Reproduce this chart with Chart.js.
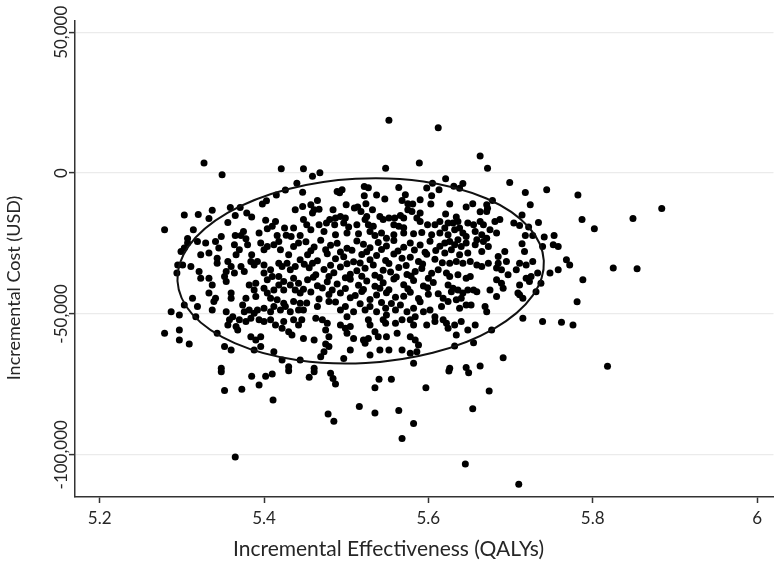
<!DOCTYPE html>
<html>
<head>
<meta charset="utf-8">
<script src="https://cdn.jsdelivr.net/npm/chart.js@4.4.1/dist/chart.umd.min.js"></script>
<style>
  html, body { margin: 0; padding: 0; background: #fff; }
  #wrap { width: 777px; height: 576px; }
</style>
</head>
<body>
<div id="wrap"><canvas id="icer" width="777" height="576"></canvas></div>
<script>
// Tick values and labels
const xTicks = [5.2, 5.4, 5.6, 5.8, 6];
const xTickLabels = ['5.2', '5.4', '5.6', '5.8', '6'];
const yTicks = [-100000, -50000, 0, 50000];
const yTickLabels = ['-100,000', '-50,000', '0', '50,000'];

const xTitle = 'Incremental Effectiveness (QALYs)';
const yTitle = 'Incremental Cost (USD)';

// 95% confidence ellipse, given by its centre and the ends of its two half-axes
const ellipseCentre = [5.5176, -34700];
const ellipseMajorEnd = [5.7405, -31100];
const ellipseMinorEnd = [5.5115, -2000];

// Bootstrap draws: [incremental QALYs, incremental cost USD]
const draws = [
  [5.327, 3600], [5.349, -600], [5.421, 1500], [5.448, 1500], [5.440, -3600], [5.426, -6000],
  [5.415, -7800], [5.403, -9800], [5.398, -11000], [5.447, -6800], [5.438, -13000], [5.447, -11900],
  [5.303, -14900], [5.320, -14700], [5.337, -13200], [5.333, -16100], [5.359, -12200], [5.371, -12200],
  [5.365, -15100], [5.379, -14200], [5.385, -15600], [5.356, -17500], [5.314, -20100], [5.402, -16700],
  [5.414, -17200], [5.410, -18900], [5.404, -19800], [5.394, -21300], [5.425, -19500], [5.436, -19500],
  [5.416, -22200], [5.427, -22100], [5.433, -22500], [5.375, -20700], [5.372, -22200], [5.378, -23300],
  [5.365, -22200], [5.348, -22500], [5.307, -23200], [5.279, -20100], [5.444, -22200],
  [5.552, 18800], [5.612, 16100], [5.589, 3600], [5.548, 1700], [5.459, -1100], [5.468, 100],
  [5.605, -3600], [5.613, -5900], [5.598, -5300], [5.564, -5100], [5.522, -4800], [5.527, -5200],
  [5.489, -6500], [5.495, -5900], [5.492, -7000], [5.537, -7800], [5.547, -9200], [5.522, -8000],
  [5.572, -7700], [5.604, -8000], [5.568, -9700], [5.575, -10900], [5.581, -11000], [5.590, -9500],
  [5.603, -11000], [5.465, -9700], [5.457, -11200], [5.500, -11200], [5.510, -12400], [5.514, -12000],
  [5.518, -13600], [5.524, -10900], [5.532, -13000], [5.484, -13000], [5.461, -13000], [5.467, -12800],
  [5.459, -14200], [5.575, -13000], [5.580, -13600], [5.590, -14200], [5.566, -15100], [5.570, -15900],
  [5.559, -15900], [5.586, -15900], [5.590, -17200], [5.493, -15400], [5.499, -15900], [5.487, -15900],
  [5.480, -16500], [5.525, -15400], [5.523, -16500], [5.541, -15400], [5.545, -16500], [5.552, -15900],
  [5.448, -16500], [5.452, -18300], [5.467, -18300], [5.476, -17700], [5.486, -18300], [5.497, -17700],
  [5.503, -19100], [5.513, -18300], [5.527, -18300], [5.533, -18900], [5.558, -18300], [5.564, -18900],
  [5.570, -19400], [5.599, -18300], [5.608, -18300], [5.614, -17200], [5.457, -20100], [5.473, -20700],
  [5.487, -21900], [5.501, -21300], [5.515, -21500], [5.529, -20700], [5.535, -22200], [5.543, -21300],
  [5.549, -23100], [5.558, -21900], [5.570, -21300], [5.582, -21500], [5.592, -21100], [5.604, -21900],
  [5.614, -21300],
  [5.663, 6100], [5.672, 1700], [5.621, -2000], [5.631, -4700], [5.638, -5400], [5.642, -3700],
  [5.699, -3300], [5.718, -6900], [5.744, -5900], [5.782, -7800], [5.678, -9700], [5.724, -11200],
  [5.787, -16500], [5.626, -11000], [5.646, -12000], [5.654, -10900], [5.671, -11200], [5.672, -12500],
  [5.671, -13600], [5.663, -13700], [5.621, -14500], [5.634, -15600], [5.636, -17200], [5.630, -17700],
  [5.624, -17700], [5.648, -17700], [5.655, -18300], [5.663, -17200], [5.667, -18300], [5.681, -17200],
  [5.687, -16500], [5.704, -17700], [5.711, -18600], [5.714, -14900], [5.734, -17500], [5.722, -19100],
  [5.675, -20100], [5.683, -21300], [5.638, -19500], [5.642, -21300], [5.632, -20100], [5.620, -19500],
  [5.624, -21900], [5.657, -20700], [5.665, -21900], [5.718, -22200], [5.727, -22200], [5.741, -22700],
  [5.753, -22200], [5.646, -22500], [5.671, -23100],
  [5.802, -19800], [5.849, -16100], [5.884, -12600],
  [5.307, -24800], [5.303, -26600], [5.299, -27800], [5.319, -24300], [5.329, -24800], [5.341, -24300],
  [5.345, -26600], [5.364, -25400], [5.370, -27200], [5.366, -29000], [5.380, -25400], [5.385, -29000],
  [5.396, -24800], [5.400, -27200], [5.404, -26100], [5.412, -25400], [5.418, -24300], [5.420, -27200],
  [5.430, -29000], [5.436, -26100], [5.442, -24800], [5.295, -32600], [5.301, -32600], [5.294, -35500],
  [5.311, -33200], [5.323, -29000], [5.333, -28400], [5.343, -30200], [5.343, -32000], [5.321, -34900],
  [5.323, -37300], [5.333, -37300], [5.356, -31400], [5.360, -33200], [5.372, -33200], [5.376, -34900],
  [5.364, -35500], [5.354, -34900], [5.352, -36700], [5.354, -38500], [5.384, -31400], [5.388, -32600],
  [5.392, -31400], [5.400, -32600], [5.408, -34300], [5.418, -32000], [5.422, -33200], [5.428, -32000],
  [5.432, -34300], [5.438, -33200], [5.444, -30800], [5.400, -35500], [5.404, -37900], [5.410, -36700],
  [5.418, -36700], [5.424, -38500], [5.436, -37300], [5.442, -39100], [5.337, -39700], [5.333, -42600],
  [5.341, -44400], [5.339, -45600], [5.360, -42600], [5.360, -44400], [5.378, -44400], [5.390, -43800],
  [5.313, -44400], [5.319, -47400], [5.303, -46800], [5.337, -48600], [5.382, -39700], [5.390, -39100],
  [5.388, -41500], [5.400, -40900], [5.404, -42600], [5.412, -41500], [5.418, -39700], [5.424, -41500],
  [5.432, -39700], [5.438, -41500], [5.444, -42600], [5.408, -44400], [5.416, -45000], [5.424, -46200],
  [5.436, -45600], [5.444, -46200], [5.374, -46800], [5.376, -49200], [5.382, -48600], [5.388, -49800],
  [5.392, -48600], [5.400, -48000], [5.408, -49200], [5.412, -47400], [5.420, -48600], [5.426, -47400],
  [5.432, -49200], [5.442, -48600], [5.354, -49200], [5.358, -52100], [5.356, -53900], [5.362, -51000],
  [5.366, -54500], [5.368, -55700], [5.370, -52100], [5.378, -52700], [5.384, -51500], [5.394, -52100],
  [5.400, -52700], [5.408, -52100], [5.414, -53900], [5.422, -55100], [5.424, -52700], [5.436, -52100],
  [5.442, -53900], [5.446, -52100], [5.287, -49200], [5.297, -50400], [5.317, -51000], [5.279, -56900],
  [5.297, -55700], [5.297, -59300], [5.309, -60700], [5.343, -56900], [5.384, -58100], [5.390, -59300],
  [5.396, -58100], [5.396, -61600], [5.388, -62800], [5.352, -61600], [5.360, -62800], [5.412, -63400],
  [5.430, -56300], [5.434, -57500], [5.422, -66400], [5.430, -68800], [5.444, -66400], [5.348, -69300],
  [5.451, -24400], [5.461, -26200], [5.469, -23800], [5.481, -25600], [5.489, -24900], [5.501, -26700],
  [5.513, -24100], [5.521, -25300], [5.529, -26500], [5.539, -24600], [5.549, -25900], [5.558, -23900],
  [5.570, -26300], [5.578, -24800], [5.590, -25500], [5.602, -24200], [5.614, -26000],
  [5.453, -29000], [5.465, -31100], [5.477, -28600], [5.487, -30400], [5.497, -29700], [5.509, -31500],
  [5.519, -28900], [5.529, -30800], [5.537, -29300], [5.548, -31000], [5.558, -28700], [5.568, -30200],
  [5.578, -29900], [5.588, -31400], [5.598, -28800], [5.608, -30600],
  [5.455, -33600], [5.463, -36100], [5.473, -34200], [5.485, -35400], [5.493, -33300], [5.505, -35900],
  [5.513, -34700], [5.523, -33800], [5.535, -36300], [5.545, -34500], [5.554, -35100], [5.564, -33500],
  [5.574, -36000], [5.584, -34900], [5.592, -33900], [5.604, -35600], [5.612, -34300],
  [5.453, -37900], [5.465, -40000], [5.477, -38600], [5.489, -39400], [5.505, -37700], [5.515, -39800],
  [5.525, -38300], [5.535, -40200], [5.545, -38900], [5.558, -37600], [5.570, -39600], [5.582, -38100],
  [5.594, -40100], [5.606, -38800],
  [5.457, -42200], [5.467, -44700], [5.479, -43100], [5.493, -42600], [5.505, -44300], [5.511, -43500],
  [5.519, -42000], [5.529, -44900], [5.537, -43300], [5.549, -42500], [5.560, -44100], [5.570, -43700],
  [5.578, -42300], [5.588, -44500], [5.600, -43000], [5.612, -42800],
  [5.457, -27600], [5.475, -27200], [5.493, -28000], [5.507, -27400], [5.525, -27900], [5.543, -27100],
  [5.563, -27700], [5.583, -27300], [5.596, -28100], [5.609, -27500],
  [5.449, -32400], [5.459, -32000], [5.481, -32700], [5.501, -32200], [5.517, -31900], [5.533, -32600],
  [5.552, -32100], [5.573, -32800], [5.593, -32300], [5.617, -31800],
  [5.460, -37000], [5.479, -36700], [5.499, -37200], [5.519, -36600], [5.541, -37100], [5.561, -36900],
  [5.579, -36500], [5.600, -37300],
  [5.448, -41200], [5.471, -40800], [5.483, -41500], [5.499, -41000], [5.521, -41300], [5.541, -40900],
  [5.552, -41400], [5.575, -41100], [5.599, -40700],
  [5.452, -46100], [5.487, -45800], [5.517, -46400], [5.543, -45900], [5.555, -46300], [5.590, -45700],
  [5.448, -48600], [5.465, -47400], [5.479, -45600], [5.493, -48600], [5.499, -47400], [5.501, -51000],
  [5.509, -49200], [5.523, -48600], [5.529, -47400], [5.537, -49200], [5.548, -48000], [5.549, -50400],
  [5.560, -48600], [5.566, -46800], [5.574, -49200], [5.582, -48000], [5.584, -51000], [5.594, -49200],
  [5.602, -48600], [5.608, -51000], [5.616, -47400],
  [5.463, -51500], [5.471, -52100], [5.477, -53300], [5.475, -55700], [5.493, -53900], [5.499, -55100],
  [5.505, -54500], [5.527, -52100], [5.529, -53900], [5.545, -52100], [5.548, -53300], [5.560, -53300],
  [5.568, -52100], [5.578, -52100], [5.582, -53900], [5.598, -53900], [5.608, -52700],
  [5.448, -58700], [5.461, -59300], [5.475, -60700], [5.479, -58100], [5.501, -56900], [5.509, -58700],
  [5.521, -59300], [5.527, -58700], [5.523, -60400], [5.535, -56300], [5.539, -58100], [5.549, -58100],
  [5.562, -56900], [5.578, -58100], [5.584, -59300],
  [5.473, -63400], [5.479, -61600], [5.505, -62800], [5.529, -64600], [5.541, -62800], [5.552, -62800],
  [5.568, -62800], [5.578, -64000], [5.586, -63400], [5.588, -61000], [5.469, -65200], [5.497, -65800],
  [5.582, -67500], [5.461, -69300],
  [5.620, -24800], [5.626, -24300], [5.632, -25400], [5.636, -23700], [5.640, -26100], [5.646, -24800],
  [5.657, -25400], [5.659, -23700], [5.667, -24300], [5.673, -26100], [5.665, -27800], [5.648, -28400],
  [5.638, -29000], [5.628, -27200], [5.620, -28400], [5.685, -29600], [5.693, -27800], [5.695, -31400],
  [5.685, -32000], [5.673, -32000], [5.659, -32600], [5.665, -33200], [5.651, -31400], [5.642, -32000],
  [5.634, -31400], [5.626, -32000], [5.714, -25100], [5.717, -27800], [5.739, -26100], [5.752, -25400],
  [5.758, -26100], [5.768, -30800], [5.772, -32600], [5.758, -34300], [5.748, -35500], [5.733, -35500],
  [5.727, -31400], [5.719, -32600], [5.711, -32000], [5.707, -34300], [5.697, -36100], [5.683, -33700],
  [5.689, -34300], [5.622, -35500], [5.626, -36700], [5.636, -36100], [5.646, -37300], [5.651, -36700],
  [5.683, -37900], [5.689, -39100], [5.691, -40900], [5.711, -39700], [5.719, -37300], [5.723, -38500],
  [5.725, -36700], [5.737, -39100], [5.731, -42100], [5.715, -44400], [5.711, -43200], [5.709, -42600],
  [5.683, -43800], [5.675, -41500], [5.624, -39700], [5.630, -40900], [5.628, -42100], [5.636, -41500],
  [5.642, -42600], [5.648, -41500], [5.655, -41500], [5.659, -42100], [5.640, -44400], [5.634, -45000],
  [5.624, -45600], [5.618, -44400], [5.646, -46800], [5.652, -46800], [5.638, -48000], [5.669, -47400],
  [5.671, -49200], [5.618, -52100], [5.622, -53300], [5.624, -55100], [5.632, -53900], [5.640, -52700],
  [5.648, -55700], [5.657, -53900], [5.634, -57500], [5.677, -55700], [5.715, -51500], [5.739, -52700],
  [5.762, -53000], [5.776, -53900], [5.781, -45700], [5.788, -37900], [5.632, -61400], [5.655, -60200],
  [5.691, -65600], [5.646, -69000], [5.663, -68500], [5.626, -69300],
  [5.825, -33700], [5.854, -34000], [5.818, -68600],
  [5.348, -70500], [5.352, -77200], [5.373, -76700], [5.385, -72100], [5.394, -75200], [5.402, -72100],
  [5.410, -71300], [5.411, -80600], [5.430, -70200], [5.365, -100800],
  [5.455, -72500], [5.461, -70500], [5.481, -71100], [5.484, -72900], [5.487, -74900], [5.478, -85500],
  [5.485, -88100], [5.516, -82900], [5.535, -76200], [5.540, -73200], [5.555, -73200], [5.535, -85200],
  [5.564, -84300], [5.568, -94200], [5.582, -88900], [5.597, -76200],
  [5.625, -70300], [5.649, -70900], [5.674, -77400], [5.654, -83700], [5.645, -103300], [5.710, -110500]
];

const fontFamily = 'Lato, "Open Sans", sans-serif';
const textColor = '#262626';

const ellipsePlugin = {
  id: 'ellipse',
  afterDatasetsDraw(chart) {
    const xs = chart.scales.x, ys = chart.scales.y, c = chart.ctx;
    const cx = xs.getPixelForValue(ellipseCentre[0]), cy = ys.getPixelForValue(ellipseCentre[1]);
    const mx = xs.getPixelForValue(ellipseMajorEnd[0]), my = ys.getPixelForValue(ellipseMajorEnd[1]);
    const nx = xs.getPixelForValue(ellipseMinorEnd[0]), ny = ys.getPixelForValue(ellipseMinorEnd[1]);
    const a = Math.hypot(mx - cx, my - cy);
    const b = Math.hypot(nx - cx, ny - cy);
    const rot = Math.atan2(my - cy, mx - cx);
    c.save();
    c.beginPath();
    c.ellipse(cx, cy, a, b, rot, 0, Math.PI * 2);
    c.strokeStyle = '#111';
    c.lineWidth = 2;
    c.stroke();
    c.restore();
  }
};

// y tick labels centred on their ticks, titles centred on the canvas
const axisTextPlugin = {
  id: 'axisText',
  afterDraw(chart) {
    const c = chart.ctx, ys = chart.scales.y;
    c.save();
    c.fillStyle = textColor;
    c.textAlign = 'center';
    c.textBaseline = 'middle';
    c.font = '17px ' + fontFamily;
    yTicks.forEach((v, i) => {
      c.save();
      c.translate(62, ys.getPixelForValue(v));
      c.rotate(-Math.PI / 2);
      c.fillText(yTickLabels[i], 0, 0);
      c.restore();
    });
    c.font = '18px ' + fontFamily;
    c.save();
    c.translate(14, chart.height / 2);
    c.rotate(-Math.PI / 2);
    c.fillText(yTitle, 0, 0);
    c.restore();
    c.font = '21px ' + fontFamily;
    c.fillText(xTitle, chart.width / 2, 549);
    c.restore();
  }
};

new Chart(document.getElementById('icer'), {
  type: 'scatter',
  data: {
    datasets: [{
      data: draws.map(d => ({ x: d[0], y: d[1] })),
      backgroundColor: '#000',
      borderColor: '#000',
      borderWidth: 0,
      pointRadius: 3.5,
      pointHoverRadius: 3.5
    }]
  },
  options: {
    responsive: false,
    animation: false,
    devicePixelRatio: 1,
    layout: { padding: { top: 21, right: 0, left: 0, bottom: 0 } },
    plugins: { legend: { display: false }, tooltip: { enabled: false } },
    scales: {
      x: {
        type: 'linear',
        min: 5.17,
        max: 6.02,
        afterBuildTicks: s => { s.ticks = xTicks.map(v => ({ value: v })); },
        afterFit: s => { s.height = 79; },
        border: { color: '#333', width: 1.5 },
        grid: { drawOnChartArea: false, tickColor: '#333', tickLength: 6, tickWidth: 1.5 },
        ticks: {
          color: textColor,
          font: { family: fontFamily, size: 17 },
          padding: 5,
          maxRotation: 0,
          callback: v => xTickLabels[xTicks.indexOf(v)]
        }
      },
      y: {
        type: 'linear',
        min: -115000,
        max: 54000,
        afterBuildTicks: s => { s.ticks = yTicks.map(v => ({ value: v })); },
        afterFit: s => { s.width = 75; },
        border: { color: '#333', width: 1.5 },
        grid: { color: '#ebebeb', lineWidth: 1.2, tickColor: '#333', tickLength: 6, tickWidth: 1.5 },
        ticks: { display: false }
      }
    }
  },
  plugins: [ellipsePlugin, axisTextPlugin]
});
</script>
</body>
</html>
